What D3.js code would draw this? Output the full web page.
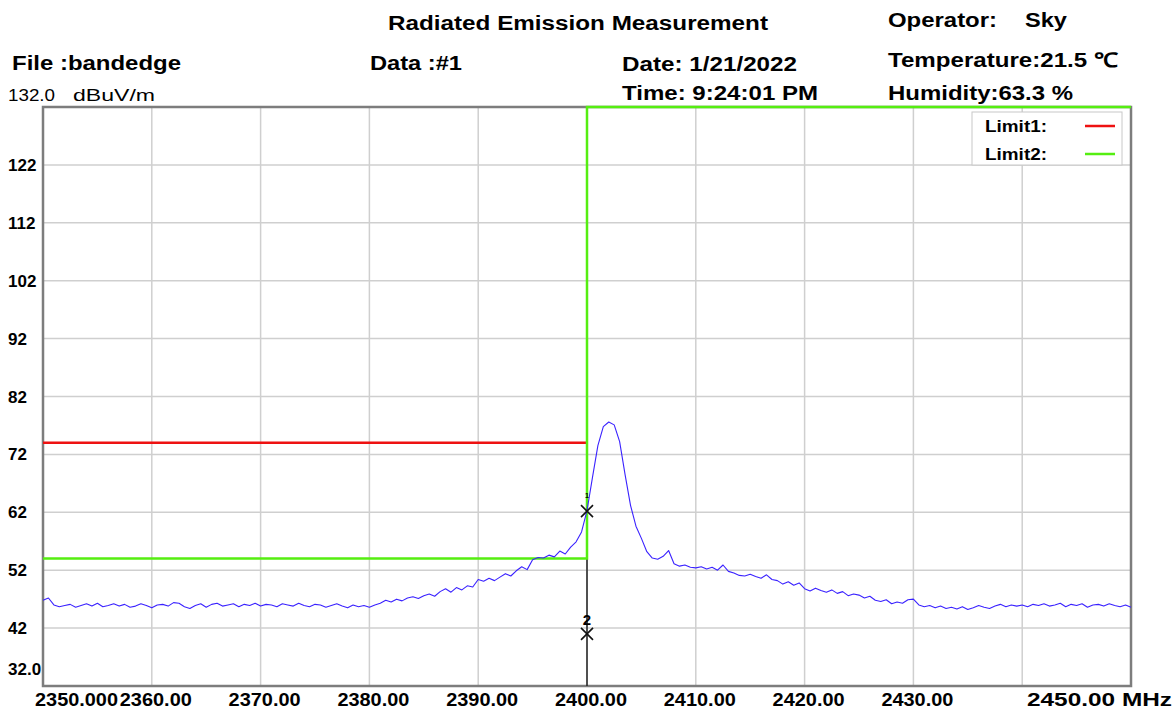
<!DOCTYPE html>
<html>
<head>
<meta charset="utf-8">
<script src="https://cdn.jsdelivr.net/npm/d3@7"></script>
<style>
  html, body { margin: 0; padding: 0; background: #ffffff; }
  svg { display: block; }
  text { font-family: "Liberation Sans", Arial, sans-serif; fill: #000; }
</style>
</head>
<body>
<svg id="chart" width="1174" height="711"></svg>
<script>
// ---------------- DATA ----------------
const freqStart = 2350;      // MHz
const freqStep = 0.5;        // MHz between trace samples
const traceLevels = [
  46.8, 47.2, 46.0, 45.7, 45.9, 46.1, 45.6, 45.9, 46.2, 45.8, 46.3, 45.7, 45.9, 46.2, 45.8, 46.1, 45.6, 45.8, 46.2, 45.9,
  45.5, 46.0, 46.1, 45.8, 46.4, 46.3, 45.7, 45.4, 45.9, 46.2, 45.6, 46.1, 46.3, 45.8, 46.0, 46.2, 45.7, 46.1, 45.9, 46.3,
  45.8, 46.1, 46.0, 45.7, 46.2, 46.0, 45.8, 46.3, 45.9, 45.7, 46.1, 46.0, 45.6, 45.9, 46.2, 45.8, 45.5, 46.0, 45.7, 45.9,
  45.6, 46.0, 46.3, 46.8, 46.5, 47.0, 46.7, 47.2, 47.4, 47.1, 47.6, 47.9, 47.5, 48.3, 48.8, 48.2, 49.0, 48.6, 49.3, 49.1,
  50.4, 50.1, 50.6, 50.2, 50.8, 51.4, 51.0, 51.9, 52.6, 52.1, 53.8, 54.2, 54.1, 54.6, 54.3, 55.3, 54.8, 56.0, 56.9, 58.6,
  62.3, 68.0, 73.5, 76.8, 77.6, 77.1, 74.2, 68.5, 63.2, 59.6, 57.5, 55.2, 54.1, 53.9, 54.4, 55.4, 53.1, 52.7, 52.9, 52.5,
  52.4, 52.6, 52.2, 52.5, 52.0, 52.9, 51.8, 51.5, 51.1, 51.0, 51.3, 50.9, 50.6, 51.2, 50.4, 50.2, 49.6, 50.0, 49.4, 49.8,
  48.8, 48.4, 48.9, 48.5, 48.2, 48.6, 48.0, 48.3, 47.6, 47.9, 47.7, 47.2, 47.5, 46.8, 46.6, 46.9, 46.2, 46.5, 46.3, 46.9,
  47.0, 46.0, 45.7, 45.9, 45.5, 45.8, 45.4, 45.6, 45.3, 45.7, 45.2, 45.5, 45.9, 45.6, 45.4, 45.8, 46.1, 45.7, 46.0, 45.8,
  46.0, 45.7, 46.1, 45.9, 46.2, 45.8, 46.0, 46.3, 45.7, 46.1, 45.9, 46.2, 45.6, 46.0, 46.1, 45.8, 46.2, 45.9, 45.7, 46.0,
  45.6
];
const limit1Freqs = [2350, 2400];
const limit1Levels = [74, 74];
const limit2Freqs = [2350, 2400, 2400, 2450];
const limit2Levels = [54, 54, 132, 132];
const markerLabels = ["1", "2"];
const markerFreqs = [2400, 2400];
const markerLevels = [62.2, 41.0];
const xTicks = [2350, 2360, 2370, 2380, 2390, 2400, 2410, 2420, 2430, 2440, 2450];
const xTickLabels = ["2350.000", "2360.00", "2370.00", "2380.00", "2390.00", "2400.00", "2410.00", "2420.00", "2430.00", "", "2450.00 MHz"];
const yTicks = [32, 42, 52, 62, 72, 82, 92, 102, 112, 122, 132];
const yTickLabels = ["32.0", "42", "52", "62", "72", "82", "92", "102", "112", "122", ""];
const legendNames = ["Limit1:", "Limit2:"];
const headerTitle = "Radiated Emission Measurement";
const headerFields = [
  "File :bandedge", "Data :#1", "Date: 1/21/2022", "Time: 9:24:01 PM",
  "Operator:", "Sky", "Temperature:21.5 \u2103", "Humidity:63.3 %"
];
const yUnitLabel = ["132.0", "dBuV/m"];

// ---------------- LAYOUT ----------------
const L = 43, R = 1131, T = 107, B = 686;
const svg = d3.select("#chart");
const x = d3.scaleLinear().domain([2350, 2450]).range([L, R]);
const y = d3.scaleLinear().domain([32, 132]).range([B, T]);

const traceData = traceLevels.map((v, i) => ({ f: freqStart + i * freqStep, v }));

// grid
const grid = svg.append("g");
grid.selectAll("line.v").data(xTicks.slice(1, -1)).enter().append("line")
  .attr("x1", d => x(d)).attr("x2", d => x(d)).attr("y1", T).attr("y2", B)
  .attr("stroke", "#cfcfcf").attr("stroke-width", 1.5);
grid.selectAll("line.h").data(yTicks.slice(1, -1)).enter().append("line")
  .attr("x1", L).attr("x2", R).attr("y1", d => y(d)).attr("y2", d => y(d))
  .attr("stroke", "#cfcfcf").attr("stroke-width", 1.5);

// frame
svg.append("rect").attr("x", L).attr("y", T).attr("width", R - L).attr("height", B - T)
  .attr("fill", "none").attr("stroke", "#7d7d7d").attr("stroke-width", 2.5);

// legend
const lg = svg.append("g");
lg.append("rect").attr("x", 972).attr("y", 112).attr("width", 150).attr("height", 53)
  .attr("fill", "#fff").attr("stroke", "#c8c8c8").attr("stroke-width", 1);
const legendColors = ["#ee1111", "#55ee11"];
legendNames.forEach((n, i) => {
  lg.append("text").attr("x", 985).attr("y", 132 + i * 28).attr("font-size", 16)
    .attr("font-weight", "bold")
    .attr("textLength", 62).attr("lengthAdjust", "spacingAndGlyphs").text(n);
  lg.append("line").attr("x1", 1085).attr("x2", 1115).attr("y1", 126 + i * 28).attr("y2", 126 + i * 28)
    .attr("stroke", legendColors[i]).attr("stroke-width", 2.5);
});

// marker vertical line
svg.append("line").attr("x1", x(markerFreqs[0])).attr("x2", x(markerFreqs[0]))
  .attr("y1", y(markerLevels[0])).attr("y2", B).attr("stroke", "#222").attr("stroke-width", 1.5);

// limits
const lineGen = d3.line().x(d => x(d.f)).y(d => y(d.v));
svg.append("path").datum(limit1Freqs.map((f, i) => ({ f, v: limit1Levels[i] })))
  .attr("d", lineGen).attr("fill", "none").attr("stroke", "#ee1111").attr("stroke-width", 2.5);
svg.append("path").datum(limit2Freqs.map((f, i) => ({ f, v: limit2Levels[i] })))
  .attr("d", lineGen).attr("fill", "none").attr("stroke", "#55ee11").attr("stroke-width", 2.5);

// trace
svg.append("path").datum(traceData).attr("d", lineGen)
  .attr("fill", "none").attr("stroke", "#3a22ff").attr("stroke-width", 1.1)
  .attr("stroke-linejoin", "round");

// markers
markerFreqs.forEach((f, i) => {
  const cx = x(f), cy = y(markerLevels[i]), s = 6;
  svg.append("path").attr("d", `M${cx - s},${cy - s}L${cx + s},${cy + s}M${cx + s},${cy - s}L${cx - s},${cy + s}`)
    .attr("stroke", "#111").attr("stroke-width", 1.6).attr("fill", "none");
  svg.append("text").attr("x", cx).attr("y", cy - (i === 0 ? 13 : 9))
    .attr("text-anchor", "middle").attr("font-size", i === 0 ? 7 : 15).attr("font-weight", "bold")
    .attr("fill", i === 0 ? "#666" : "#111").text(markerLabels[i]);
});

// axis labels
const ax = svg.append("g");
xTicks.forEach((t, i) => {
  if (!xTickLabels[i]) return;
  const first = i === 0, last = i === xTicks.length - 1;
  const tl = first ? 83 : last ? 145 : 72;
  ax.append("text").attr("x", first ? x(t) - 8 : last ? 1172 - tl : x(t) + 4 - tl / 2)
    .attr("y", 706).attr("font-size", 18).attr("font-weight", "bold")
    .attr("textLength", tl).attr("lengthAdjust", "spacingAndGlyphs")
    .text(xTickLabels[i]);
});
yTicks.forEach((t, i) => {
  if (!yTickLabels[i]) return;
  ax.append("text").attr("x", 8).attr("y", i === 0 ? 675 : y(t) + 6)
    .attr("font-size", 17).attr("font-weight", "bold").text(yTickLabels[i]);
});

// header
const hd = svg.append("g").attr("font-weight", "bold").attr("font-size", 20);
function htext(s, px, py, w) {
  hd.append("text").attr("x", px).attr("y", py)
    .attr("textLength", w).attr("lengthAdjust", "spacingAndGlyphs").text(s);
}
htext(headerTitle, 388, 30, 380);
htext(headerFields[0], 12, 70, 169);
htext(headerFields[1], 370, 70, 92);
htext(headerFields[2], 622, 71, 175);
htext(headerFields[3], 622, 100, 196);
htext(headerFields[4], 888, 27, 109);
htext(headerFields[5], 1025, 27, 42);
htext(headerFields[6], 888, 67, 230);
htext(headerFields[7], 888, 100, 185);
svg.append("text").attr("x", 8).attr("y", 101).attr("font-size", 16)
  .attr("textLength", 47).attr("lengthAdjust", "spacingAndGlyphs").text(yUnitLabel[0]);
svg.append("text").attr("x", 73).attr("y", 101).attr("font-size", 16)
  .attr("textLength", 82).attr("lengthAdjust", "spacingAndGlyphs").text(yUnitLabel[1]);
</script>
</body>
</html>
